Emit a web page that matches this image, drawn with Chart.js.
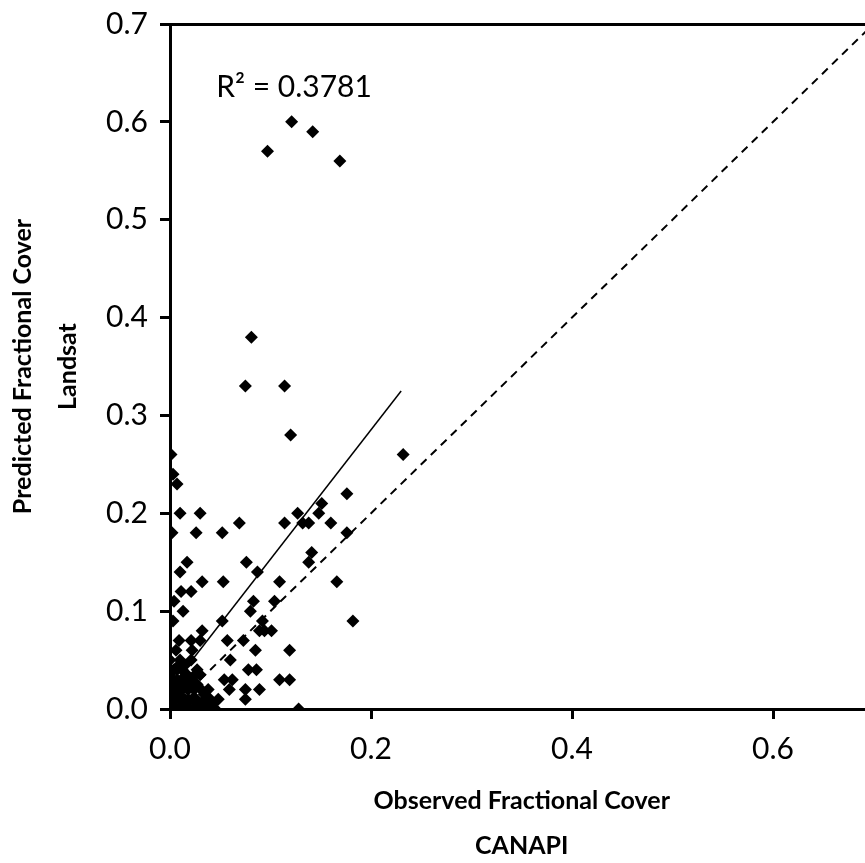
<!DOCTYPE html>
<html>
<head>
<meta charset="utf-8">
<title>Observed vs predicted fractional cover</title>
<script src="https://cdn.jsdelivr.net/npm/chart.js@4.4.1/dist/chart.umd.min.js"></script>
<style>
  html, body { margin: 0; padding: 0; background: #fff; overflow: hidden; }
  #wrap { width: 880px; height: 868px; }
</style>
</head>
<body>
<div id="wrap"><canvas id="grafico" width="880" height="868"></canvas></div>
<script>
// observed (CANAPI) vs predicted (Landsat) fractional cover per plot
const observado = [
  0.121, 0.142, 0.097, 0.169, 0.081,
  0.075, 0.114, 0.120, 0.001, 0.232,
  0.003, 0.007, 0.176, 0.151, 0.148, 0.127, 0.010, 0.030,
  0.069, 0.114, 0.132, 0.138, 0.160,
  0.002, 0.026, 0.052, 0.176,
  0.141, 0.138, 0.076, 0.017,
  0.087, 0.010,
  0.109, 0.166, 0.032, 0.053,
  0.011, 0.021,
  0.004, 0.104, 0.083,
  0.013, 0.080,
  0.003, 0.052, 0.092, 0.182,
  0.089, 0.094, 0.101, 0.032,
  0.009, 0.030, 0.057, 0.073, 0.021,
  0.006, 0.022, 0.085, 0.119,
  0.010, 0.021, 0.060,
  0.027, 0.078, 0.086, 0.007, 0.017,
  0.109, 0.119, 0.054, 0.062,
  0.059, 0.075, 0.089, 0.038, 0.031,
  0.075, 0.048, 0.040, 0.035,
  0.128, 0.045, 0.038, 0.030,
  0.000, 0.002, 0.005, 0.008, 0.012, 0.016, 0.020, 0.024,
  0.000, 0.003, 0.006, 0.010, 0.014, 0.018, 0.022, 0.026,
  0.000, 0.004, 0.008, 0.012, 0.018, 0.024,
  0.000, 0.003, 0.007, 0.012, 0.016, 0.021,
  0.001, 0.004, 0.012, 0.000, 0.002,
  0.028, 0.033, 0.042, 0.027, 0.034, 0.030, 0.009, 0.015,
  0.005, 0.019, 0.025, 0.014
];
const previsto = [
  0.60, 0.59, 0.57, 0.56, 0.38,
  0.33, 0.33, 0.28, 0.26, 0.26,
  0.24, 0.23, 0.22, 0.21, 0.20, 0.20, 0.20, 0.20,
  0.19, 0.19, 0.19, 0.19, 0.19,
  0.18, 0.18, 0.18, 0.18,
  0.16, 0.15, 0.15, 0.15,
  0.14, 0.14,
  0.13, 0.13, 0.13, 0.13,
  0.12, 0.12,
  0.11, 0.11, 0.11,
  0.10, 0.10,
  0.09, 0.09, 0.09, 0.09,
  0.08, 0.08, 0.08, 0.08,
  0.07, 0.07, 0.07, 0.07, 0.07,
  0.06, 0.06, 0.06, 0.06,
  0.05, 0.05, 0.05,
  0.04, 0.04, 0.04, 0.04, 0.035,
  0.03, 0.03, 0.03, 0.03,
  0.02, 0.02, 0.02, 0.02, 0.02,
  0.01, 0.01, 0.01, 0.01,
  0.00, 0.00, 0.00, 0.00,
  0.00, 0.00, 0.00, 0.00, 0.00, 0.00, 0.00, 0.00,
  0.01, 0.01, 0.01, 0.01, 0.01, 0.01, 0.01, 0.01,
  0.02, 0.02, 0.02, 0.02, 0.02, 0.02,
  0.03, 0.03, 0.03, 0.03, 0.03, 0.03,
  0.04, 0.04, 0.04, 0.05, 0.015,
  0.005, 0.005, 0.005, 0.025, 0.015, 0.035, 0.045, 0.045,
  0.025, 0.025, 0.035, 0.005
];

// linear trendline end points and the 1:1 reference line
const tendenciaX = [0, 0.23];
const tendenciaY = [0.021, 0.325];
const umParaUmX = [0, 0.7];
const umParaUmY = [0, 0.7];

const ticksX = [0, 0.2, 0.4, 0.6];
const ticksY = [0, 0.1, 0.2, 0.3, 0.4, 0.5, 0.6, 0.7];

const textoR2 = 'R² = 0.3781';
const posR2 = [0.046, 0.635];

const pontos = observado.map((x, i) => ({ x: x, y: previsto[i] }));
const tendencia = tendenciaX.map((x, i) => ({ x: x, y: tendenciaY[i] }));
const umParaUm = umParaUmX.map((x, i) => ({ x: x, y: umParaUmY[i] }));

const familia = 'Lato, "Open Sans", sans-serif';
const fonteTick = { family: familia, size: 30 };
const fonteTitulo = { family: familia, size: 25, weight: 'bold', lineHeight: '45px' };

// draws the R² text next to the points
const rotuloR2 = {
  id: 'rotuloR2',
  afterDatasetsDraw(chart) {
    const ctx = chart.ctx;
    const px = chart.scales.x.getPixelForValue(posR2[0]);
    const py = chart.scales.y.getPixelForValue(posR2[1]);
    ctx.save();
    ctx.font = '30px ' + familia;
    ctx.fillStyle = '#000';
    ctx.textAlign = 'left';
    ctx.textBaseline = 'middle';
    ctx.fillText(textoR2, px, py);
    ctx.restore();
  }
};

document.addEventListener('DOMContentLoaded', function () {
  const ctx = document.getElementById('grafico').getContext('2d');
  new Chart(ctx, {
    type: 'scatter',
    data: {
      datasets: [{
        label: 'Plots',
        data: pontos,
        pointStyle: 'rectRot',
        pointRadius: 6.5,
        pointBorderWidth: 0,
        backgroundColor: '#000',
        borderColor: '#000'
      }, {
        label: 'Linear',
        data: tendencia,
        showLine: true,
        borderColor: '#000',
        borderWidth: 1.5,
        pointRadius: 0,
        fill: false
      }, {
        label: '1:1',
        data: umParaUm,
        showLine: true,
        borderColor: '#000',
        borderWidth: 2,
        borderDash: [8, 6],
        pointRadius: 0,
        fill: false
      }]
    },
    options: {
      responsive: false,
      animation: false,
      devicePixelRatio: 1,
      layout: { padding: { top: 24, right: 5, bottom: 0, left: 0 } },
      plugins: {
        legend: { display: false },
        tooltip: { enabled: false }
      },
      scales: {
        x: {
          type: 'linear',
          position: 'bottom',
          min: 0,
          max: 0.7,
          afterBuildTicks: (scale) => { scale.ticks = ticksX.map(v => ({ value: v })); },
          afterFit: (scale) => { scale.height = 868 - 709; },
          ticks: {
            color: '#000',
            font: fonteTick,
            padding: 12,
            maxRotation: 0,
            callback: (v) => Number(v).toFixed(1)
          },
          grid: { drawOnChartArea: false, color: '#000', tickColor: '#000', tickLength: 10, lineWidth: 3 },
          border: { color: '#000', width: 3 },
          title: {
            display: true,
            text: ['Observed Fractional Cover', 'CANAPI'],
            color: '#000',
            font: fonteTitulo,
            padding: { top: 0, bottom: 0 }
          }
        },
        xTopo: {
          type: 'linear',
          position: 'top',
          min: 0,
          max: 0.7,
          afterFit: (scale) => { scale.height = 0; },
          ticks: { display: false },
          grid: { display: false },
          border: { color: '#000', width: 3 }
        },
        y: {
          type: 'linear',
          position: 'left',
          min: 0,
          max: 0.7,
          afterBuildTicks: (scale) => { scale.ticks = ticksY.map(v => ({ value: v })); },
          afterFit: (scale) => {
            scale.width = 170;
            // the outer labels may overhang the plot edges
            scale.paddingTop = 0;
            scale.paddingBottom = 0;
          },
          ticks: {
            color: '#000',
            font: fonteTick,
            padding: 12,
            callback: (v) => Number(v).toFixed(1)
          },
          grid: { drawOnChartArea: false, color: '#000', tickColor: '#000', tickLength: 10, lineWidth: 3 },
          border: { color: '#000', width: 3 },
          title: {
            display: true,
            text: ['Predicted Fractional Cover', 'Landsat'],
            color: '#000',
            font: fonteTitulo,
            padding: { top: 0, bottom: 0 }
          }
        }
      }
    },
    plugins: [rotuloR2]
  });
});
</script>
</body>
</html>
